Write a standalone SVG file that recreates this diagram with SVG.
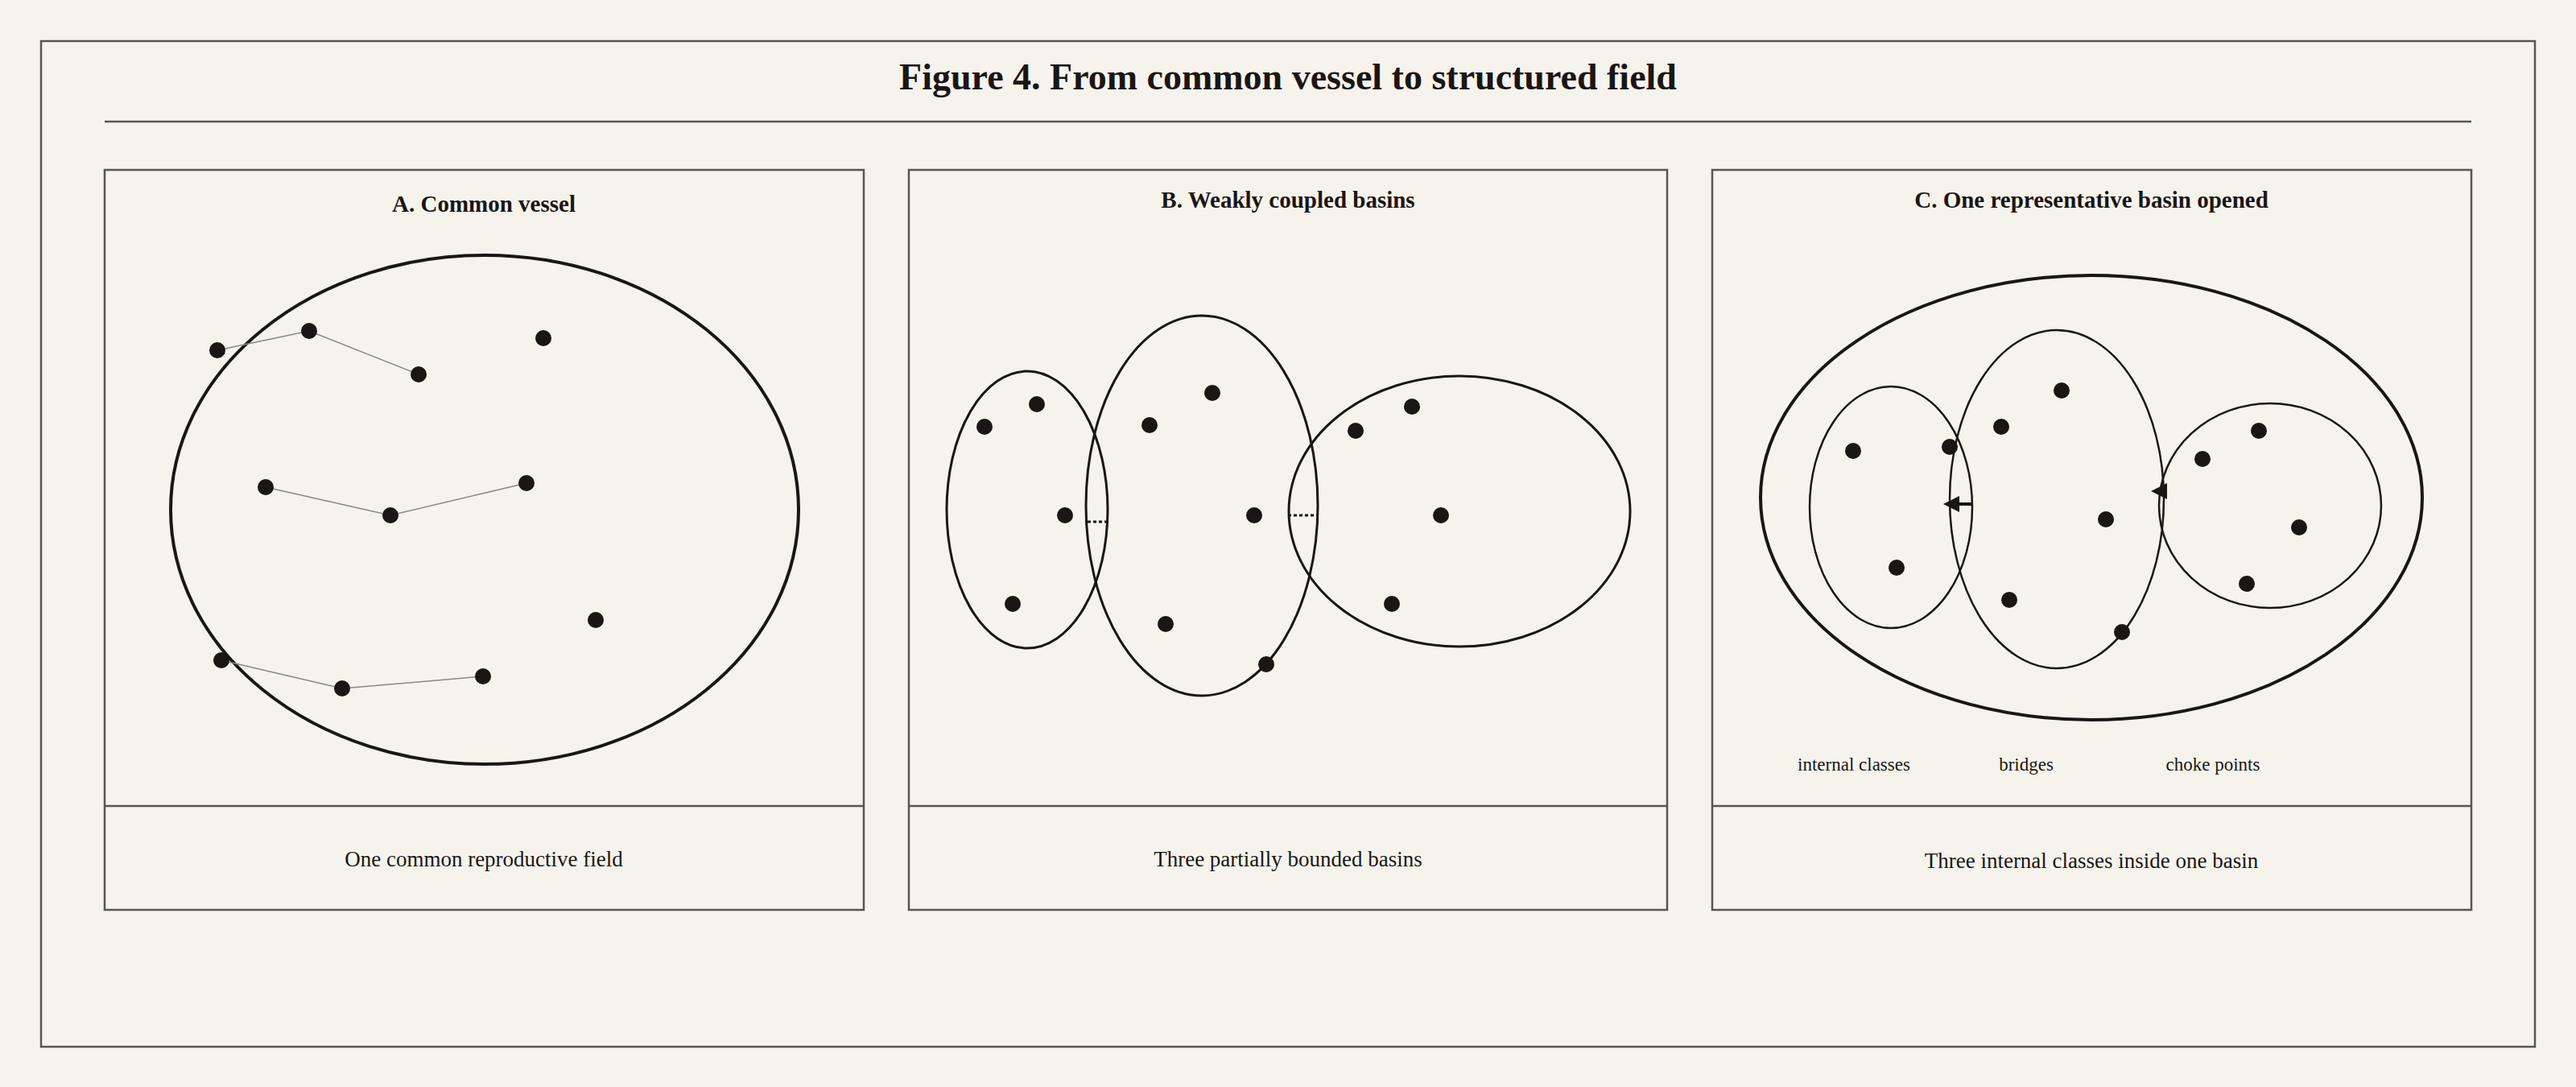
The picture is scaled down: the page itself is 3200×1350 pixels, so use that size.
<svg xmlns="http://www.w3.org/2000/svg" width="3200" height="1350" viewBox="0 0 3200 1350">
<style>
.frame{fill:none;stroke:#5a5550;stroke-width:2.5}
.big{fill:none;stroke:#1a1614;stroke-width:4}
.mid{fill:none;stroke:#1a1614;stroke-width:3}
.thin{fill:none;stroke:#1a1614;stroke-width:2.5}
.dot{fill:#1a1614}
.link{fill:none;stroke:#888;stroke-width:1.5}
.dash{stroke:#1a1614;stroke-width:3;stroke-dasharray:4 3}
text{font-family:"Liberation Serif","DejaVu Serif",serif;fill:#1a1614;text-anchor:middle}
.title{font-size:46px;font-weight:bold}
.ptitle{font-size:29px;font-weight:bold}
.cap{font-size:27px}
.lbl{font-size:23px}
</style>
<defs>
<marker id="ah" viewBox="0 0 10 10" refX="1" refY="5" markerWidth="5" markerHeight="5" orient="auto-start-reverse"><path d="M0,0 L10,5 L0,10 z" fill="#1a1614"/></marker>
</defs>
<rect width="3200" height="1350" fill="#f6f3ec"/>
<rect class="frame" x="51" y="51" width="3098" height="1249"/>
<text class="title" x="1600" y="111">Figure 4. From common vessel to structured field</text>
<line class="frame" x1="130" y1="151" x2="3070" y2="151"/>

<g id="panelA">
<rect class="frame" x="130" y="211" width="943" height="919"/>
<line class="frame" x1="130" y1="1001" x2="1073" y2="1001"/>
<text class="ptitle" x="601" y="263">A. Common vessel</text>
<text class="cap" x="601" y="1076">One common reproductive field</text>
<ellipse class="big" cx="602" cy="633" rx="390" ry="316"/>
<g id="A-links">
<polyline class="link" points="270,435 384,411 520,465"/>
<polyline class="link" points="330,605 485,640 654,600"/>
<polyline class="link" points="275,820 425,855 600,840"/>
</g>
<g class="dot">
<circle cx="270" cy="435" r="10"/><circle cx="384" cy="411" r="10"/><circle cx="520" cy="465" r="10"/>
<circle cx="675" cy="420" r="10"/><circle cx="330" cy="605" r="10"/><circle cx="485" cy="640" r="10"/>
<circle cx="654" cy="600" r="10"/><circle cx="740" cy="770" r="10"/><circle cx="275" cy="820" r="10"/>
<circle cx="425" cy="855" r="10"/><circle cx="600" cy="840" r="10"/>
</g>
</g>

<g id="panelB">
<rect class="frame" x="1129" y="211" width="942" height="919"/>
<line class="frame" x1="1129" y1="1001" x2="2071" y2="1001"/>
<text class="ptitle" x="1600" y="258">B. Weakly coupled basins</text>
<text class="cap" x="1600" y="1076">Three partially bounded basins</text>
<ellipse class="mid" cx="1276" cy="633" rx="100" ry="172"/>
<ellipse class="mid" cx="1493" cy="628" rx="144" ry="236"/>
<ellipse class="mid" cx="1813" cy="635" rx="212" ry="168"/>
<g id="B-links">
<line class="dash" x1="1351" y1="648" x2="1375" y2="648"/>
<line class="dash" x1="1600" y1="640" x2="1636" y2="640"/>
</g>
<g class="dot">
<circle cx="1223" cy="530" r="10"/><circle cx="1288" cy="502" r="10"/><circle cx="1323" cy="640" r="10"/>
<circle cx="1258" cy="750" r="10"/><circle cx="1428" cy="528" r="10"/><circle cx="1506" cy="488" r="10"/>
<circle cx="1558" cy="640" r="10"/><circle cx="1448" cy="775" r="10"/><circle cx="1573" cy="825" r="10"/>
<circle cx="1754" cy="505" r="10"/><circle cx="1684" cy="535" r="10"/><circle cx="1790" cy="640" r="10"/>
<circle cx="1729" cy="750" r="10"/>
</g>
</g>

<g id="panelC">
<rect class="frame" x="2127" y="211" width="943" height="919"/>
<line class="frame" x1="2127" y1="1001" x2="3070" y2="1001"/>
<text class="ptitle" x="2598" y="258">C. One representative basin opened</text>
<text class="cap" x="2598" y="1078">Three internal classes inside one basin</text>
<ellipse class="big" cx="2598" cy="618" rx="411" ry="276"/>
<ellipse class="thin" cx="2349" cy="630" rx="101" ry="150"/>
<ellipse class="thin" cx="2555" cy="620" rx="133" ry="210"/>
<ellipse class="thin" cx="2820" cy="628" rx="138" ry="127"/>
<g id="C-links">
<line stroke="#1a1614" stroke-width="4" x1="2450" y1="626" x2="2432" y2="626" marker-end="url(#ah)"/>
<line stroke="#1a1614" stroke-width="4" x1="2692" y1="610" x2="2690" y2="610" marker-end="url(#ah)"/>
</g>
<g class="dot">
<circle cx="2302" cy="560" r="10"/><circle cx="2422" cy="555" r="10"/><circle cx="2356" cy="705" r="10"/>
<circle cx="2486" cy="530" r="10"/><circle cx="2561" cy="485" r="10"/><circle cx="2616" cy="645" r="10"/>
<circle cx="2496" cy="745" r="10"/><circle cx="2636" cy="785" r="10"/><circle cx="2806" cy="535" r="10"/>
<circle cx="2736" cy="570" r="10"/><circle cx="2856" cy="655" r="10"/><circle cx="2791" cy="725" r="10"/>
</g>
<text class="lbl" x="2303" y="957">internal classes</text>
<text class="lbl" x="2517" y="957">bridges</text>
<text class="lbl" x="2749" y="957">choke points</text>
</g>
</svg>
